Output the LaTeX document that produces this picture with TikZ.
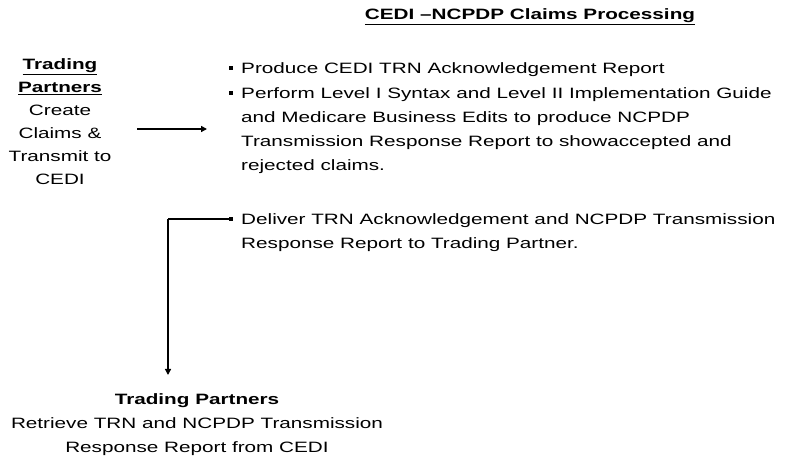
\documentclass[tikz,border=0pt]{standalone}
\usepackage{fontspec}
\setmainfont[FakeStretch=1.38]{Liberation Sans}
\usetikzlibrary{arrows.meta}

\begin{document}
\begin{tikzpicture}[x=1pt,y=-1pt,
  txt/.style={inner sep=0pt,font=\fontsize{15}{24}\selectfont},
  blt/.style={fill=black,inner sep=0pt,minimum size=3.8pt},
  flow/.style={draw,line width=1.3pt,-{Triangle[width=6pt,length=6pt]}}]
\useasboundingbox (0,0) rectangle (788,465);
\node[txt,font=\bfseries\fontsize{15}{24}\selectfont] (title) at (530,17) {\underline{CEDI --NCPDP Claims Processing}};
\node[txt,align=center,font=\fontsize{15}{23}\selectfont] (sender) at (60,122) {\textbf{\underline{Trading}}\\\textbf{\underline{Partners}}\\Create\\Claims \&\\Transmit to\\CEDI};
\node[blt] (b1) at (231,68) {};
\node[txt,anchor=north west] (produce) at (241,62) {Produce CEDI TRN Acknowledgement Report};
\node[blt] (b2) at (231,93) {};
\node[txt,anchor=north west,align=left] (perform) at (241,87) {Perform Level I Syntax and Level II Implementation Guide\\and Medicare Business Edits to produce NCPDP\\Transmission Response Report to showaccepted and\\rejected claims.};
\node[blt] (b3) at (231,219) {};
\node[txt,anchor=north west,align=left] (deliver) at (241,213) {Deliver TRN Acknowledgement and NCPDP Transmission\\Response Report to Trading Partner.};
\node[txt,align=center] (retrieve) at (197,425) {\textbf{Trading Partners}\\Retrieve TRN and NCPDP Transmission\\Response Report from CEDI};
\coordinate (sendout) at (137,129);
\coordinate (procin) at (207,129);
\coordinate (turn) at (168,219);
\coordinate (tipend) at (168,375);
\path[flow,line width=2.2pt] (sendout) -- (procin);
\path[draw,line width=1.3pt] (b3) -- (turn);
\path[flow] (turn) -- (tipend);
\end{tikzpicture}
\end{document}
